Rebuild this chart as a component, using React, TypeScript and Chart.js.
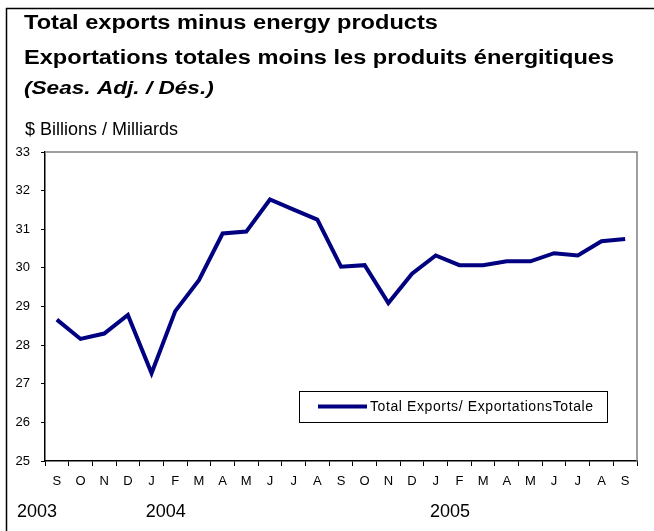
import React, { useEffect, useRef } from 'react';
import { Chart, registerables } from 'chart.js';
Chart.register(...registerables);

const months = ['S', 'O', 'N', 'D', 'J', 'F', 'M', 'A', 'M', 'J', 'J', 'A', 'S', 'O', 'N', 'D', 'J', 'F', 'M', 'A', 'M', 'J', 'J', 'A', 'S'];
const totalExports = [28.66, 28.16, 28.3, 28.78, 27.27, 28.88, 29.68, 30.89, 30.94, 31.77, 31.51, 31.25, 30.03, 30.07, 29.09, 29.85, 30.32, 30.07, 30.07, 30.17, 30.17, 30.38, 30.32, 30.69, 30.75];
const yearLabels = ['2003', '2004', '2005'];
const yearIndices = [0, 4, 16];
const titleLine1 = 'Total exports minus energy products';
const titleLine2 = 'Exportations totales moins les produits énergitiques';
const titleLine3 = '(Seas. Adj. / Dés.)';
const unitLabel = '$ Billions / Milliards';
const seriesLabel = 'Total Exports/ ExportationsTotale';
const yMin = 25;
const yMax = 33;

const FONT = '"Liberation Sans", Arial, sans-serif';
const NAVY = '#000080';

function stretchedText(ctx: any, text: string, x: number, y: number, sx: number) {
  ctx.save();
  ctx.translate(x, y);
  ctx.scale(sx, 1);
  ctx.fillText(text, 0, 0);
  ctx.restore();
}

const decorPlugin = {
  id: 'decor',
  afterDraw(chart: any) {
    const ctx = chart.ctx;
    const ca = chart.chartArea;
    const xs = chart.scales.x;
    ctx.save();
    // outer frame (top + left)
    ctx.strokeStyle = '#000';
    ctx.lineWidth = 1.5;
    ctx.beginPath();
    ctx.moveTo(6.5, chart.height);
    ctx.lineTo(6.5, 8.5);
    ctx.lineTo(chart.width, 8.5);
    ctx.stroke();

    // chart area gray top/right border
    ctx.strokeStyle = '#808080';
    ctx.lineWidth = 1.5;
    ctx.beginPath();
    ctx.moveTo(ca.left, ca.top);
    ctx.lineTo(ca.right, ca.top);
    ctx.lineTo(ca.right, ca.bottom);
    ctx.stroke();

    // titles
    ctx.fillStyle = '#000';
    ctx.textAlign = 'left';
    ctx.textBaseline = 'alphabetic';
    ctx.font = `bold 20px ${FONT}`;
    stretchedText(ctx, titleLine1, 24, 29, 1.18);
    stretchedText(ctx, titleLine2, 24, 64, 1.18);
    ctx.font = `italic bold 19px ${FONT}`;
    stretchedText(ctx, titleLine3, 24, 94, 1.19);
    ctx.font = `18px ${FONT}`;
    ctx.fillText(unitLabel, 25, 135);

    // years
    ctx.font = `18px ${FONT}`;
    const step = xs.getPixelForValue(1) - xs.getPixelForValue(0);
    yearLabels.forEach((y, i) => {
      const idx = yearIndices[i];
      const px = idx === 0 ? ca.left - 28 : xs.getPixelForValue(idx) - step / 2 + 6;
      ctx.fillText(y, px, 517);
    });

    // legend box
    const lx = ca.left + 254;
    const ly = ca.top + 239;
    const lw = 308;
    const lh = 31;
    ctx.fillStyle = '#fff';
    ctx.fillRect(lx, ly, lw, lh);
    ctx.strokeStyle = '#000';
    ctx.lineWidth = 1;
    ctx.strokeRect(lx + 0.5, ly + 0.5, lw, lh);
    ctx.strokeStyle = NAVY;
    ctx.lineWidth = 4;
    ctx.beginPath();
    ctx.moveTo(lx + 19, ly + 15.5);
    ctx.lineTo(lx + 68, ly + 15.5);
    ctx.stroke();
    ctx.fillStyle = '#000';
    ctx.font = `14px ${FONT}`;
    (ctx as any).letterSpacing = '0.6px';
    ctx.textBaseline = 'middle';
    ctx.fillText(seriesLabel, lx + 71, ly + 16);
    (ctx as any).letterSpacing = '0px';
    ctx.restore();
  },
};

export default function App() {
  const ref = useRef<HTMLCanvasElement>(null);
  useEffect(() => {
    if (!ref.current) return;
    const chart = new Chart(ref.current, {
      type: 'line',
      data: {
        labels: months,
        datasets: [
          {
            label: seriesLabel,
            data: totalExports,
            borderColor: NAVY,
            backgroundColor: NAVY,
            borderWidth: 4,
            pointRadius: 0,
            tension: 0,
            fill: false,
          },
        ],
      },
      options: {
        responsive: false,
        animation: false,
        devicePixelRatio: 1,
        layout: { padding: { top: 152, right: 17, left: 0, bottom: 0 } },
        plugins: {
          legend: { display: false },
          title: { display: false },
          tooltip: { enabled: false },
        },
        scales: {
          x: {
            offset: true,
            grid: { display: true, offset: true, drawOnChartArea: false, drawTicks: true, tickLength: 5, color: '#000' },
            border: { color: '#000', width: 1.5 },
            ticks: { color: '#000', font: { family: FONT, size: 13 }, padding: 8, maxRotation: 0, autoSkip: false },
            afterFit: (s: any) => { s.height = 70; },
          },
          y: {
            min: yMin,
            max: yMax,
            grid: { display: true, drawOnChartArea: false, drawTicks: true, tickLength: 4, color: '#000' },
            border: { color: '#000', width: 1.5 },
            ticks: { stepSize: 1, color: '#000', font: { family: FONT, size: 13 }, padding: 11 },
            afterFit: (s: any) => { s.width = 45; },
          },
        },
      },
      plugins: [decorPlugin],
    });
    return () => chart.destroy();
  }, []);
  return (
    <div style={{ position: 'absolute', left: 0, top: 0, width: 654, height: 531, background: '#fff' }}>
      <canvas ref={ref} width={654} height={531} style={{ display: 'block' }} />
    </div>
  );
}
